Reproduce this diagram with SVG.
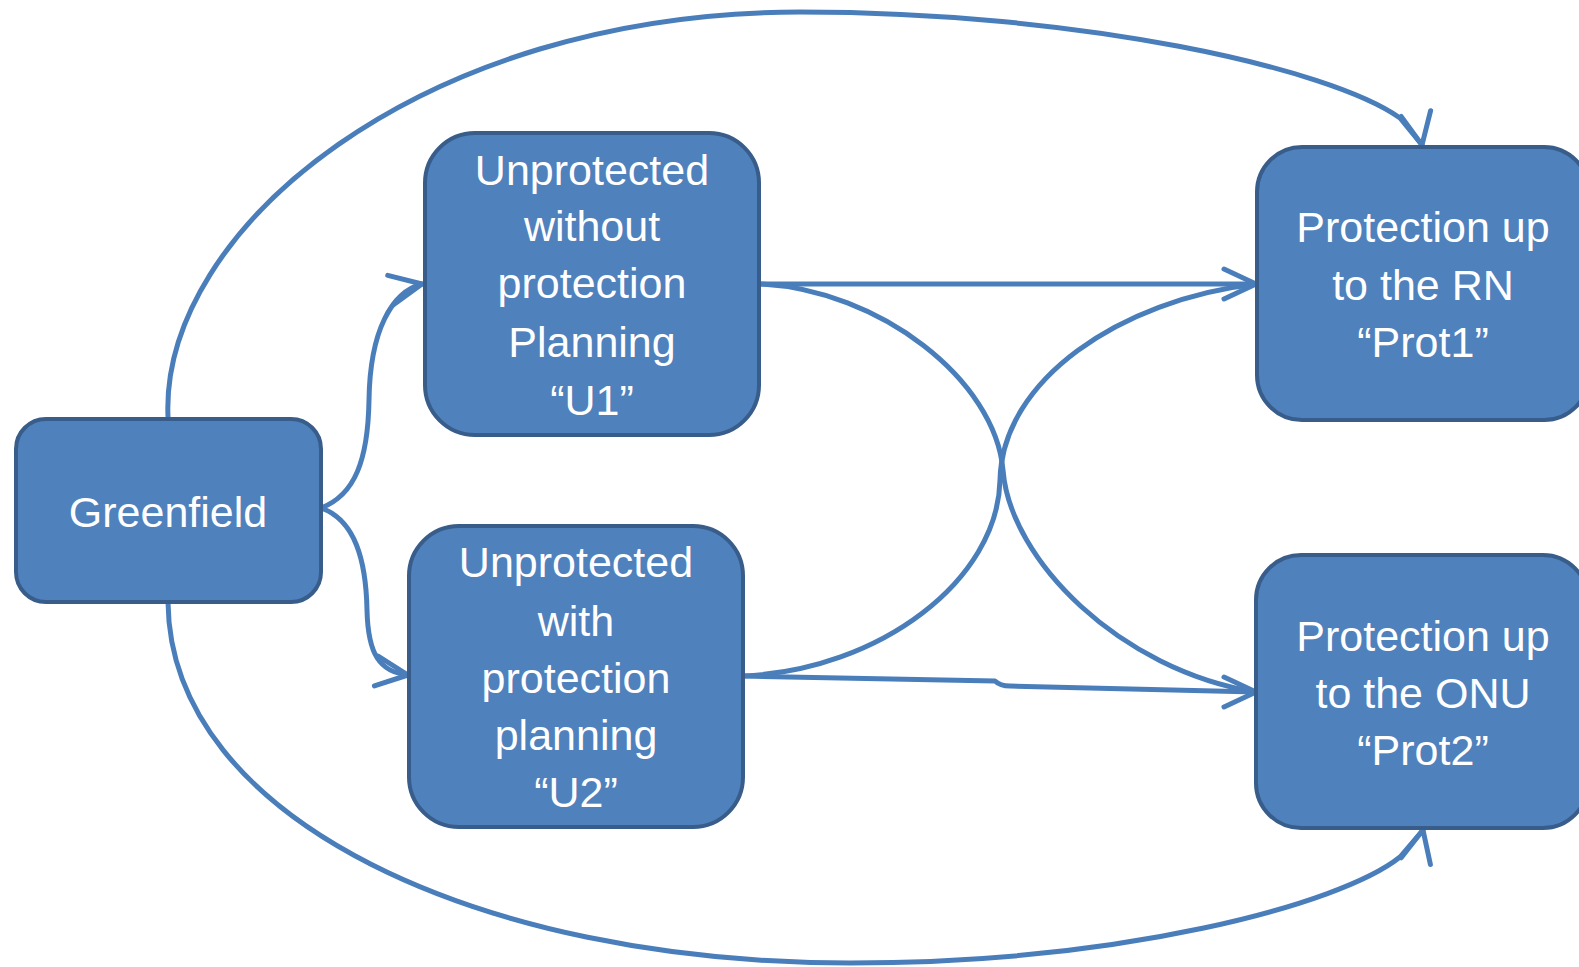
<svg xmlns="http://www.w3.org/2000/svg" xmlns:xlink="http://www.w3.org/1999/xlink" width="1579" height="967" viewBox="0 0 1579 967">
  <style>
    .box { fill: #4F81BD; stroke: #385D8A; stroke-width: 4; }
    .label { fill: #FFFFFF; font-family: "Liberation Sans", Arial, sans-serif; font-size: 43px; text-anchor: middle; }
    .conn { fill: none; stroke: #4A7EBB; stroke-width: 5; stroke-linecap: round; stroke-linejoin: round; }
  </style>
  <defs>
    <!-- open chevron arrowhead, tip at origin pointing along +x -->
    <path id="head" d="M-32,-15 L0,0 L-32,15" fill="none" stroke="#4A7EBB" stroke-width="5" stroke-linecap="round" stroke-linejoin="round"/>
  </defs>

  <rect width="1579" height="967" fill="#FFFFFF"/>

  <g id="connectors">
    <!-- Greenfield -> Prot1 (outer top arc) -->
    <path class="conn" d="M168,417 C160,230 420,12 800,12 C1080,12 1330,68 1400,118 L1422,145"/>
    <use xlink:href="#head" transform="translate(1422,145) rotate(79)"/>
    <!-- Greenfield -> Prot2 (outer bottom arc) -->
    <path class="conn" d="M168,602 C170,820 480,963 850,963 C1120,963 1340,905 1400,857 L1423,830"/>
    <use xlink:href="#head" transform="translate(1423,830) rotate(-77)"/>
    <!-- Greenfield -> U1 -->
    <path class="conn" d="M321,508 C355,495 368,460 369,400 C370,330 392,292 422,284"/>
    <use xlink:href="#head" transform="translate(422,284) rotate(-11)"/>
    <!-- Greenfield -> U2 -->
    <path class="conn" d="M321,508 C355,520 366,560 367,610 C368,655 380,672 408,675"/>
    <use xlink:href="#head" transform="translate(408,675) rotate(7)"/>
    <!-- U1 -> Prot1 -->
    <path class="conn" d="M760,284 L1256,284"/>
    <!-- U1 -> Prot2 -->
    <path class="conn" d="M760,284 C880,290 995,380 1003,470 C1010,560 1120,670 1256,692"/>
    <!-- U2 -> Prot1 -->
    <path class="conn" d="M743,676 C880,670 998,580 1000,480 C1002,380 1120,300 1256,284"/>
    <!-- U2 -> Prot2 -->
    <path class="conn" d="M743,676 L995,681 Q1000,686 1010,686 L1256,692"/>
    <use xlink:href="#head" transform="translate(1256,284)"/>
    <use xlink:href="#head" transform="translate(1256,692)"/>
  </g>

  <g id="greenfield">
    <rect class="box" x="16" y="419" width="305" height="183" rx="30" ry="30"/>
    <text class="label" x="168" y="527">Greenfield</text>
  </g>

  <g id="u1">
    <rect class="box" x="425" y="133" width="334" height="302" rx="50" ry="50"/>
    <text class="label" x="592" y="185">Unprotected</text>
    <text class="label" x="592" y="241">without</text>
    <text class="label" x="592" y="298">protection</text>
    <text class="label" x="592" y="357">Planning</text>
    <text class="label" x="592" y="415">“U1”</text>
  </g>

  <g id="u2">
    <rect class="box" x="409" y="526" width="334" height="301" rx="50" ry="50"/>
    <text class="label" x="576" y="577">Unprotected</text>
    <text class="label" x="576" y="636">with</text>
    <text class="label" x="576" y="693">protection</text>
    <text class="label" x="576" y="750">planning</text>
    <text class="label" x="576" y="807">“U2”</text>
  </g>

  <g id="prot1">
    <rect class="box" x="1257" y="147" width="332" height="273" rx="45" ry="45"/>
    <text class="label" x="1423" y="242">Protection up</text>
    <text class="label" x="1423" y="300">to the RN</text>
    <text class="label" x="1423" y="357">“Prot1”</text>
  </g>

  <g id="prot2">
    <rect class="box" x="1256" y="555" width="332" height="273" rx="45" ry="45"/>
    <text class="label" x="1423" y="651">Protection up</text>
    <text class="label" x="1423" y="708">to the ONU</text>
    <text class="label" x="1423" y="765">“Prot2”</text>
  </g>
</svg>
